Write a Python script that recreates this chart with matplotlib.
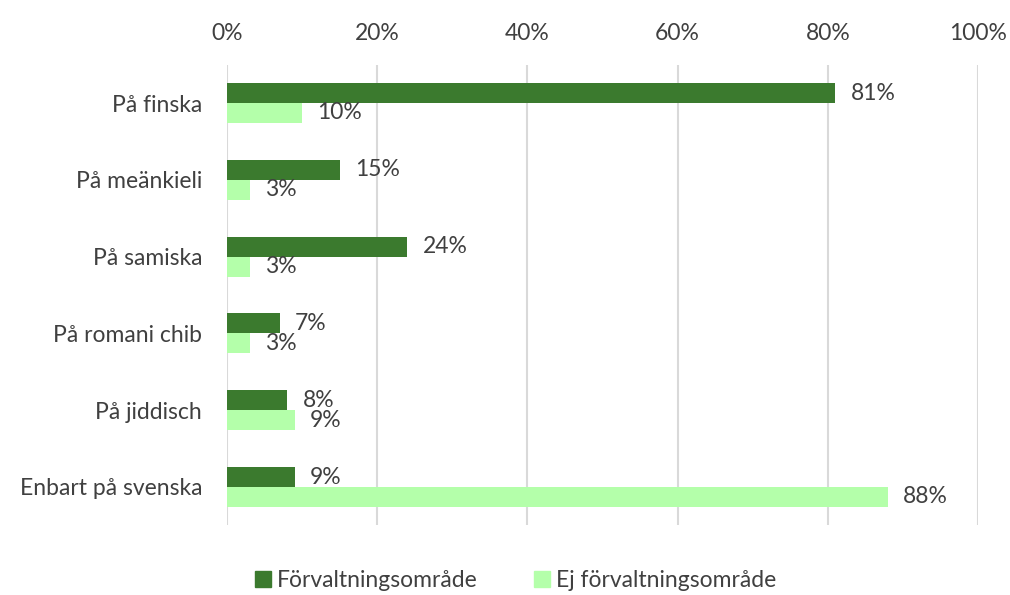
import numpy as np
import matplotlib.pyplot as plt
from matplotlib.lines import Line2D

plt.rcParams['font.family'] = ['Lato', 'DejaVu Sans']

categories = ['På finska', 'På meänkieli', 'På samiska', 'På romani chib', 'På jiddisch', 'Enbart på svenska']
forvaltning = [81, 15, 24, 7, 8, 9]
ej_forvaltning = [10, 3, 3, 3, 9, 88]
series_labels = ['Förvaltningsområde', 'Ej förvaltningsområde']

DARK = '#3B7A2E'
LIGHT = '#B4FFAA'
TEXT = '#404040'
FS = 16.5

fig = plt.figure(figsize=(10.1, 5.95), dpi=100)
ax = fig.add_axes([0.2248, 0.117, 0.7435, 0.7744])

y = np.arange(len(categories))
h = 0.26
ax.barh(y - h / 2, forvaltning, height=h, color=DARK, zorder=3)
ax.barh(y + h / 2, ej_forvaltning, height=h, color=LIGHT, zorder=3)

for i in range(len(categories)):
    ax.annotate(f'{forvaltning[i]}%', (forvaltning[i], y[i] - h / 2), xytext=(11, 0),
                textcoords='offset points', ha='left', va='center', fontsize=FS, color=TEXT)
    ax.annotate(f'{ej_forvaltning[i]}%', (ej_forvaltning[i], y[i] + h / 2), xytext=(11, 0),
                textcoords='offset points', ha='left', va='center', fontsize=FS, color=TEXT)

ax.set_xlim(0, 100)
ax.set_ylim(len(categories) - 0.5, -0.5)
ax.set_xticks(np.arange(0, 101, 20))
ax.set_xticklabels([f'{v}%' for v in range(0, 101, 20)])
ax.xaxis.tick_top()
ax.set_yticks(y)
ax.set_yticklabels(categories)
ax.tick_params(axis='both', length=0, labelsize=FS, colors=TEXT, pad=18)
ax.tick_params(axis='x', pad=15)
ax.grid(axis='x', color='#D9D9D9', linewidth=1.5, zorder=0)
for s in ax.spines.values():
    s.set_visible(False)

legend = [Line2D([0], [0], color=DARK, marker='s', linestyle='None', markersize=12, label=series_labels[0]),
          Line2D([0], [0], color=LIGHT, marker='s', linestyle='None', markersize=12, label=series_labels[1])]
fig.legend(handles=legend, loc='center', bbox_to_anchor=(0.51, 0.025), ncol=2, frameon=False,
           fontsize=FS, labelcolor=TEXT, handlelength=0.8, handletextpad=0.2, columnspacing=2.4)

fig.savefig('out.png')
